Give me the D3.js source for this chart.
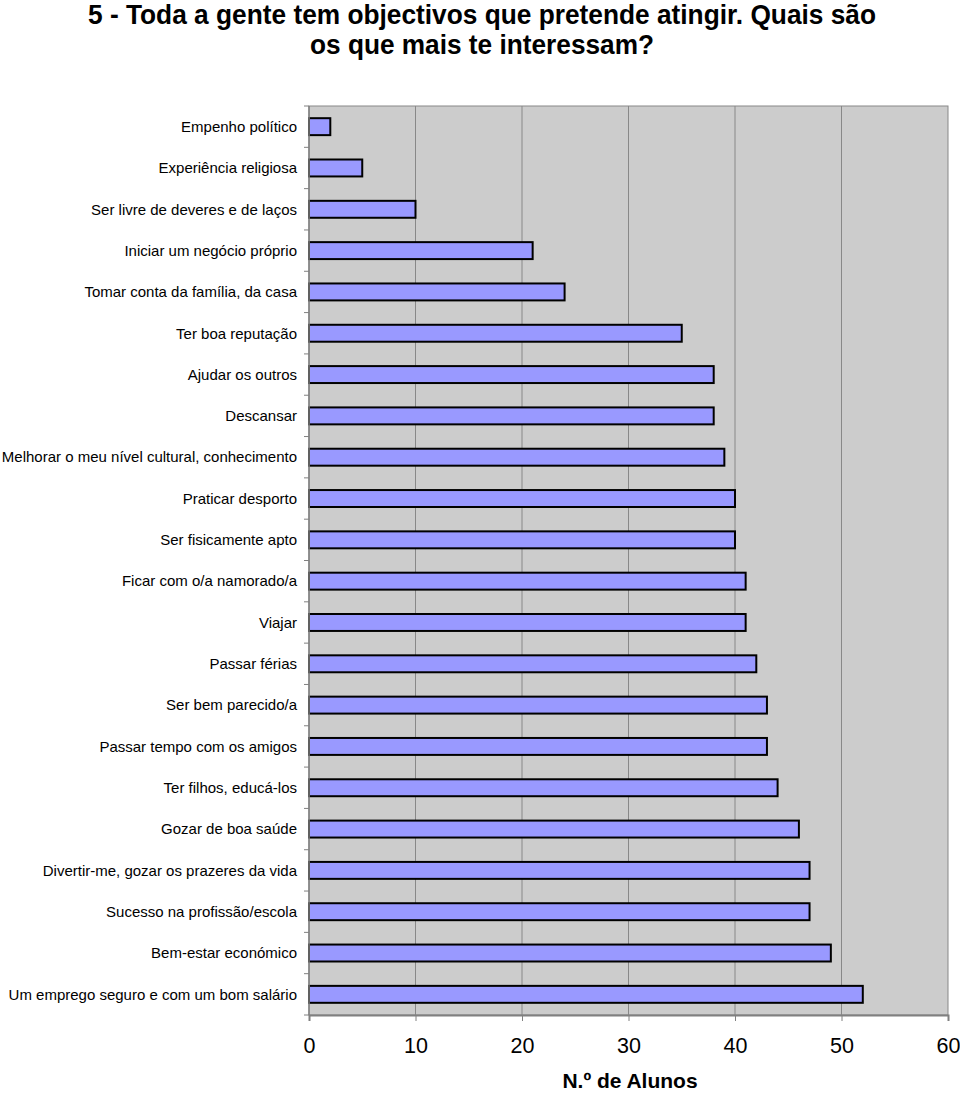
<!DOCTYPE html>
<html><head><meta charset="utf-8">
<script src="https://cdn.jsdelivr.net/npm/d3@7"></script>
<style>body{margin:0;background:#fff;} svg{display:block;}</style>
</head><body>
<svg id="c" width="960" height="1094"></svg>
<script>
const categories = ["Empenho político","Experiência religiosa","Ser livre de deveres e de laços","Iniciar um negócio próprio","Tomar conta da família, da casa","Ter boa reputação","Ajudar os outros","Descansar","Melhorar o meu nível cultural, conhecimento","Praticar desporto","Ser fisicamente apto","Ficar com o/a namorado/a","Viajar","Passar férias","Ser bem parecido/a","Passar tempo com os amigos","Ter filhos, educá-los","Gozar de boa saúde","Divertir-me, gozar os prazeres da vida","Sucesso na profissão/escola","Bem-estar económico","Um emprego seguro e com um bom salário"];
const values = [2,5,10,21,24,35,38,38,39,40,40,41,41,42,43,43,44,46,47,47,49,52];
const xTicks = [0,10,20,30,40,50,60];
const titleLines = ["5 - Toda a gente tem objectivos que pretende atingir. Quais são","os que mais te interessam?"];
const xTitle = "N.º de Alunos";

const svg = d3.select("#c");
const L=309, R=948, T=106, B=1015;
const x = d3.scaleLinear().domain([0,60]).range([L,R]);
const y = d3.scaleBand().domain(categories).range([T,B]).paddingInner(0.59).paddingOuter(0.295);

svg.append("rect").attr("x",L).attr("y",T).attr("width",R-L).attr("height",B-T).attr("fill","#cccccc").attr("stroke","#888").attr("stroke-width",1);
svg.append("g").selectAll("line").data(xTicks.slice(1,-1)).join("line")
  .attr("x1",d=>x(d)).attr("x2",d=>x(d)).attr("y1",T).attr("y2",B).attr("stroke","#888").attr("stroke-width",1);

svg.append("g").selectAll("rect").data(categories).join("rect")
  .attr("x",x(0)).attr("y",d=>y(d)).attr("height",y.bandwidth())
  .attr("width",(d,i)=>x(values[i])-x(0))
  .attr("fill","#9999ff").attr("stroke","#000").attr("stroke-width",2);

svg.append("line").attr("x1",L).attr("x2",L).attr("y1",T).attr("y2",B).attr("stroke","#808080").attr("stroke-width",1.5);
svg.append("g").selectAll("line").data(d3.range(categories.length+1)).join("line")
  .attr("x1",L-5).attr("x2",L).attr("y1",i=>T+i*(B-T)/categories.length).attr("y2",i=>T+i*(B-T)/categories.length)
  .attr("stroke","#808080");
svg.append("g").selectAll("text").data(categories).join("text")
  .attr("x",297).attr("y",d=>y(d)+y.bandwidth()/2).attr("dy","0.35em")
  .attr("text-anchor","end").attr("font-family","Liberation Sans, Arial, sans-serif").attr("font-size",15).attr("fill","#000")
  .text(d=>d);

const xa = d3.axisBottom(x).tickValues(xTicks).tickSize(6).tickPadding(17).tickFormat(d3.format("d"));
const gx = svg.append("g").attr("transform",`translate(0,${B})`).call(xa);
gx.select(".domain").attr("stroke","#808080").attr("stroke-width",2);
gx.selectAll(".tick line").attr("stroke","#808080");
gx.selectAll("text").attr("font-family","Liberation Sans, Arial, sans-serif").attr("font-size",21.5).attr("fill","#000");

svg.append("text").attr("x",630).attr("y",1088).attr("text-anchor","middle")
  .attr("font-family","Liberation Sans, Arial, sans-serif").attr("font-weight","bold").attr("font-size",21).text(xTitle);

const tLens = [788, 344];
svg.append("g").selectAll("text").data(titleLines).join("text")
  .attr("x",482).attr("y",(d,i)=>24+i*30).attr("text-anchor","middle")
  .attr("font-family","Liberation Sans, Arial, sans-serif").attr("font-weight","bold").attr("font-size",28)
  .attr("textLength",(d,i)=>tLens[i]).attr("lengthAdjust","spacingAndGlyphs")
  .text(d=>d);
</script>
</body></html>
